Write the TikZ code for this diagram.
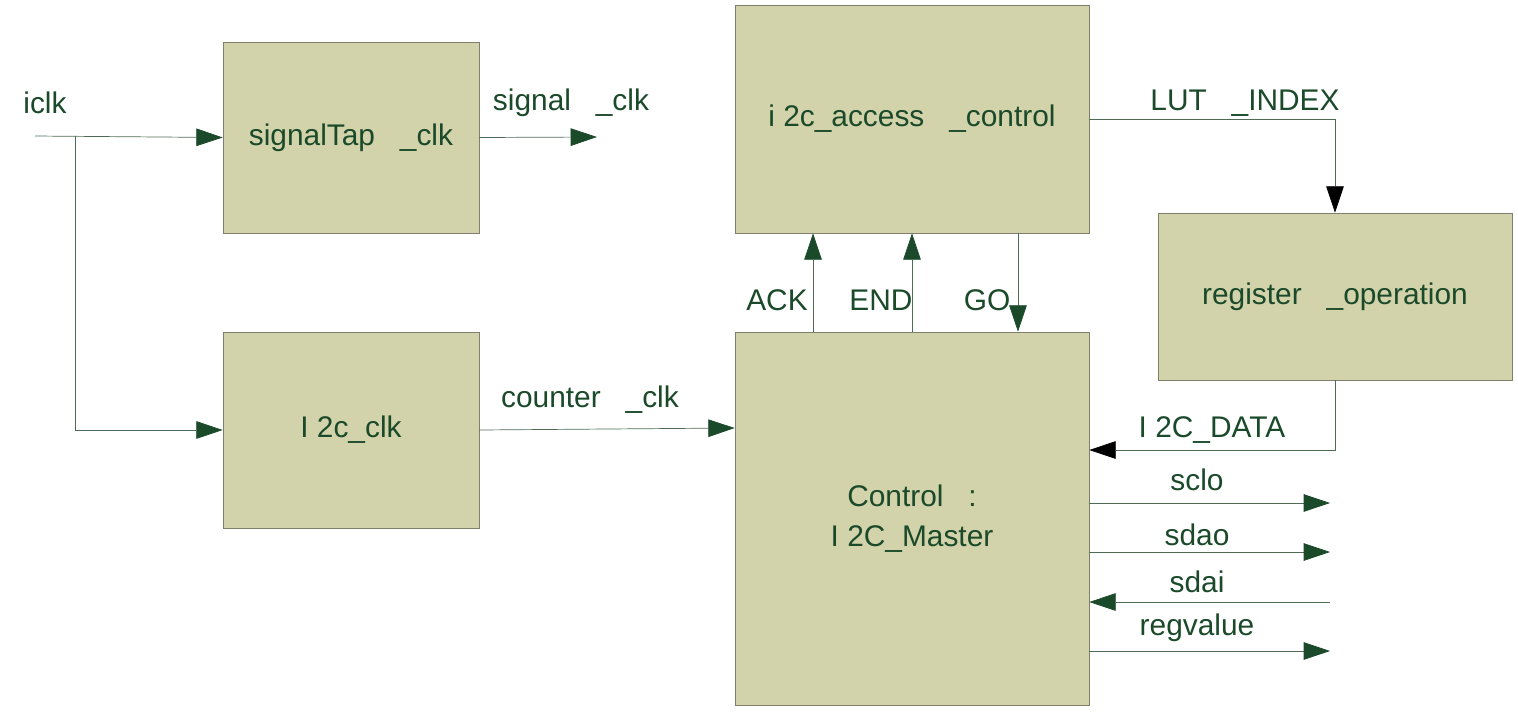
\documentclass[tikz,border=0pt]{standalone}
\usepackage{fontspec}
\setmainfont{Liberation Sans}
\usetikzlibrary{arrows.meta}
\definecolor{boxfill}{HTML}{D3D3AB}
\definecolor{boxline}{HTML}{7F7F6E}
\definecolor{wire}{HTML}{4F6B55}
\definecolor{txt}{HTML}{1B4A2A}

\begin{document}
\begin{tikzpicture}[x=0.02cm,y=-0.02cm,
    blk/.style={draw=boxline,fill=boxfill,text=txt,inner sep=0pt,font=\fontsize{17}{21}\selectfont},
    lbl/.style={text=txt,inner sep=0pt,font=\fontsize{17}{21}\selectfont},
    arr/.style={draw=wire,-{Triangle[length=15pt,width=10pt,fill=txt,color=txt]}},
    arrb/.style={draw=wire,-{Triangle[length=15pt,width=10pt,fill=black,color=black]}}]
    \useasboundingbox (0,0) rectangle (1518,711);

    \node (sig) at (351,137.5) [blk,minimum width=5.12cm,minimum height=3.82cm] {signalTap\ \ \ \_clk};
    \node (i2cclk) at (351,430) [blk,minimum width=5.12cm,minimum height=3.92cm] {I 2c\_clk};
    \node (access) at (912,119) [blk,minimum width=7.08cm,minimum height=4.56cm] {i 2c\_access\ \ \ \_control};
    \node (reg) at (1335,296.5) [blk,minimum width=7.08cm,minimum height=3.34cm] {register\ \ \ \_operation};
    \node (ctrl) at (912,518.5) [blk,minimum width=7.08cm,minimum height=7.46cm,align=center] {Control\ \ \ :\\[2pt]I 2C\_Master};

    \coordinate (in) at (35,136);
    \coordinate (br) at (75,136);
    \coordinate (sigout) at (597,137);
    \coordinate (sclo) at (1330,503);
    \coordinate (sdao) at (1330,552);
    \coordinate (sdai) at (1330,602);
    \coordinate (regv) at (1330,651);

    \node (iclk) at (45,103) [lbl] {iclk};
    \node at (571,103) [lbl] {signal\ \ \ \_clk};
    \node at (590,400) [lbl] {counter\ \ \ \_clk};
    \node at (777,300) [lbl] {ACK};
    \node at (881,300) [lbl] {END};
    \node at (987,300) [lbl] {GO};
    \node at (1245,103) [lbl] {LUT\ \ \ \_INDEX};
    \node at (1212,430) [lbl] {I 2C\_DATA};
    \node at (1197,480) [lbl] {sclo};
    \node at (1197,535) [lbl] {sdao};
    \node at (1197,582) [lbl] {sdai};
    \node at (1197,628) [lbl] {regvalue};

    \draw[arr] (in) -- (sig.west);
    \draw[arr] (br) |- (i2cclk.west);
    \draw[arr] (sig.east) -- (sigout);
    \draw[arr] (i2cclk.east) -- ([yshift=0.04cm]ctrl.west |- i2cclk.east);
    \draw[arr] ([xshift=-1.98cm]ctrl.north) -- ([xshift=-1.98cm]access.south);
    \draw[arr] (ctrl.north) -- (access.south);
    \draw[arr] ([xshift=2.12cm]access.south) -- ([xshift=2.12cm]ctrl.north);
    \draw[arrb] (access.east) -| (reg.north);
    \draw[arrb] (reg.south) |- ([yshift=1.37cm]ctrl.east);
    \draw[arr] (ctrl.east |- sclo) -- (sclo);
    \draw[arr] (ctrl.east |- sdao) -- (sdao);
    \draw[arr] (sdai) -- (ctrl.east |- sdai);
    \draw[arr] (ctrl.east |- regv) -- (regv);
\end{tikzpicture}
\end{document}
